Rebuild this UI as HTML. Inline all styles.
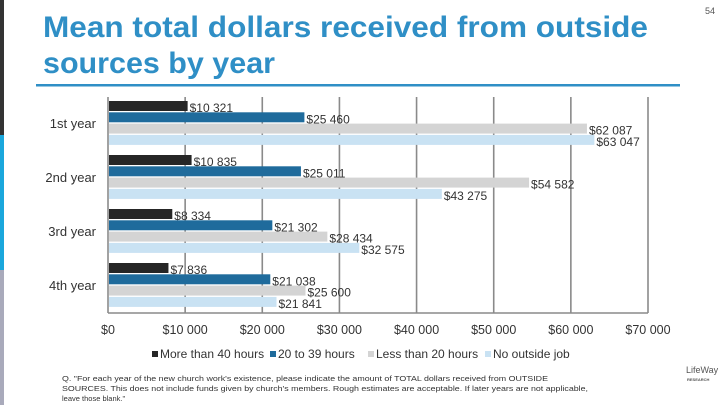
<!DOCTYPE html>
<html><head><meta charset="utf-8"><style>
body{margin:0;width:720px;height:405px;overflow:hidden;background:#fff;font-family:"Liberation Sans",sans-serif;}
</style></head><body>
<svg width="720" height="405" viewBox="0 0 720 405" xmlns="http://www.w3.org/2000/svg">
<rect x="0" y="0" width="4" height="135" fill="#333"/>
<rect x="0" y="135" width="4" height="135" fill="#1aa7dc"/>
<rect x="0" y="270" width="4" height="135" fill="#a9aabb"/>
<text x="43" y="37" font-size="30" font-weight="bold" fill="#2f8fc6" textLength="605" lengthAdjust="spacingAndGlyphs">Mean total dollars received from outside</text>
<text x="43" y="73" font-size="30" font-weight="bold" fill="#2f8fc6" textLength="232" lengthAdjust="spacingAndGlyphs">sources by year</text>
<rect x="36" y="84" width="644" height="2.5" fill="#2f8fc6"/>
<text x="705" y="14" font-size="9" fill="#555">54</text>
<g id="grid"></g>
<g id="bars"></g>
<g id="legend"></g>
<text x="62" y="381" font-size="7.5" fill="#333" textLength="486" lengthAdjust="spacingAndGlyphs">Q. "For each year of the new church work's existence, please indicate the amount of TOTAL dollars received from OUTSIDE</text>
<text x="62" y="391" font-size="7.5" fill="#333" textLength="526" lengthAdjust="spacingAndGlyphs">SOURCES. This does not include funds given by church's members. Rough estimates are acceptable. If later years are not applicable,</text>
<text x="62" y="401" font-size="7.5" fill="#333">leave those blank."</text>
<text x="686" y="373" font-size="9" fill="#555">LifeWay</text>
<text x="687" y="381" font-size="4" font-weight="bold" fill="#555">RESEARCH</text>
</svg>
<script>
const categories = ["1st year","2nd year","3rd year","4th year"];
const seriesNames = ["More than 40 hours","20 to 39 hours","Less than 20 hours","No outside job"];
const more40 = [10321,10835,8334,7836];
const h20to39 = [25460,25011,21302,21038];
const less20 = [62087,54582,28434,25600];
const noJob = [63047,43275,32575,21841];
const ticks = [0,10000,20000,30000,40000,50000,60000,70000];
const series = [more40,h20to39,less20,noJob];
const colors = ["#262626","#1f6b9c","#d4d4d4","#c9e2f3"];
const NS="http://www.w3.org/2000/svg";
const X0=108,X1=648,XMAX=70000,YTOP=97,YBOT=313;
const xs=v=>X0+(v/XMAX)*(X1-X0);
const gy=g=>101+g*54;
function mk(tag,attrs,parent){const e=document.createElementNS(NS,tag);for(const k in attrs)e.setAttribute(k,attrs[k]);parent.appendChild(e);return e;}
const fmt=v=>"$"+String(v).replace(/\B(?=(\d{3})+(?!\d))/g," ");
const grid=document.getElementById('grid');
ticks.forEach(t=>{
  const l=mk('line',{x1:xs(t),x2:xs(t),y1:YTOP,y2:YBOT,stroke:"#8a8a8a","stroke-width":1.6},grid);
  
  
  const tx=mk('text',{x:xs(t),y:334,"font-size":12.5,"text-anchor":"middle",fill:"#333"},grid);
  tx.textContent=fmt(t);
  
  
});
const bl=mk('line',{x1:X0,x2:X1,y1:YBOT,y2:YBOT,stroke:"#8a8a8a","stroke-width":1.6},grid);


const bars=document.getElementById('bars');
categories.forEach((c,g)=>{
  const ct=mk('text',{x:96,y:gy(g)+27,"font-size":13,"text-anchor":"end",fill:"#333"},bars);
  ct.textContent=c;
  
  
  series.forEach((s,k)=>{
    const y=gy(g)+k*11.3;
    const r=mk('rect',{x:X0+1,y:y,width:xs(s[g])-X0-1,height:10,fill:colors[k]},bars);
    
    
    const t=mk('text',{x:xs(s[g])+2,y:y+11,"font-size":12,fill:"#333"},bars);
    t.textContent=fmt(s[g]);
    
    
  });
});
const leg=document.getElementById('legend');
const lx=[152,270,368,485];
seriesNames.forEach((n,i)=>{
  const r=mk('rect',{x:lx[i],y:351,width:6,height:6,fill:colors[i]},leg);
  
  
  const t=mk('text',{x:lx[i]+8,y:358,"font-size":12,fill:"#333"},leg);
  t.textContent=n;
  
  
});
</script>
</body></html>
